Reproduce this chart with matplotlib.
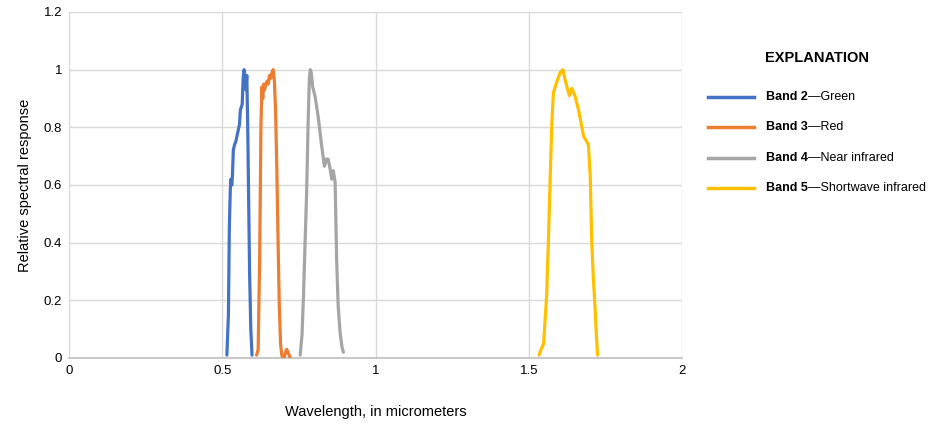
import matplotlib
matplotlib.use("Agg")
import matplotlib.pyplot as plt
from matplotlib.lines import Line2D

plt.rcParams['font.family'] = ['Liberation Sans', 'DejaVu Sans']

# spectral response curves
band2_wl = [0.515, 0.520, 0.523, 0.526, 0.528, 0.531, 0.533, 0.536, 0.540, 0.544, 0.548,
            0.552, 0.556, 0.559, 0.562, 0.565, 0.568, 0.571, 0.574, 0.577, 0.580, 0.583,
            0.586, 0.589, 0.593, 0.597]
band2_y = [0.01, 0.15, 0.45, 0.58, 0.62, 0.60, 0.63, 0.72, 0.74, 0.75, 0.77,
           0.79, 0.81, 0.86, 0.87, 0.88, 0.97, 1.00, 0.98, 0.93, 0.98, 0.80,
           0.55, 0.30, 0.10, 0.01]

band3_wl = [0.612, 0.617, 0.622, 0.626, 0.629, 0.632, 0.635, 0.638, 0.642, 0.646, 0.650,
            0.654, 0.658, 0.662, 0.666, 0.670, 0.674, 0.678, 0.682, 0.686, 0.690, 0.694,
            0.698, 0.702, 0.706, 0.710, 0.714, 0.718, 0.722]
band3_y = [0.01, 0.03, 0.35, 0.80, 0.94, 0.90, 0.95, 0.93, 0.95, 0.96, 0.95,
           0.98, 0.97, 0.99, 1.00, 0.96, 0.85, 0.65, 0.40, 0.18, 0.05, 0.01,
           0.00, 0.00, 0.02, 0.03, 0.02, 0.01, 0.00]

band4_wl = [0.754, 0.760, 0.765, 0.770, 0.775, 0.780, 0.784, 0.787, 0.790, 0.795, 0.803,
            0.813, 0.823, 0.833, 0.840, 0.845, 0.851, 0.857, 0.862, 0.868, 0.873, 0.878,
            0.884, 0.890, 0.895]
band4_y = [0.01, 0.08, 0.22, 0.40, 0.57, 0.82, 0.97, 1.00, 0.99, 0.94, 0.905,
           0.835, 0.745, 0.665, 0.69, 0.69, 0.66, 0.62, 0.65, 0.61, 0.34, 0.18,
           0.09, 0.04, 0.02]

band5_wl = [1.533, 1.540, 1.548, 1.558, 1.564, 1.569, 1.575, 1.580, 1.590, 1.602, 1.611,
            1.617, 1.624, 1.632, 1.640, 1.650, 1.662, 1.673, 1.678, 1.686, 1.694, 1.700,
            1.705, 1.710, 1.716, 1.720, 1.724]
band5_y = [0.01, 0.03, 0.05, 0.22, 0.42, 0.61, 0.82, 0.92, 0.955, 0.99, 1.00,
           0.97, 0.94, 0.91, 0.935, 0.91, 0.86, 0.80, 0.77, 0.755, 0.74, 0.63,
           0.40, 0.28, 0.17, 0.08, 0.01]

band_names = ['Band 2', 'Band 3', 'Band 4', 'Band 5']
band_desc = ['\u2014Green', '\u2014Red', '\u2014Near infrared', '\u2014Shortwave infrared']
colors = ['#4472C4', '#ED7D31', '#A5A5A5', '#FFC000']

x_ticks = [0, 0.5, 1, 1.5, 2]
x_ticklabels = ['0', '0.5', '1', '1.5', '2']
y_ticks = [0, 0.2, 0.4, 0.6, 0.8, 1.0, 1.2]
y_ticklabels = ['0', '0.2', '0.4', '0.6', '0.8', '1', '1.2']

fig = plt.figure(figsize=(9.32, 4.24), dpi=100)
ax = fig.add_axes([0.074, 0.1557, 0.658, 0.816])

series = [(band2_wl, band2_y), (band3_wl, band3_y), (band4_wl, band4_y), (band5_wl, band5_y)]
for (wl, y), c in zip(series, colors):
    ax.plot(wl, y, color=c, lw=2.3, solid_joinstyle='round', solid_capstyle='round', zorder=3)

ax.set_xlim(0, 2)
ax.set_ylim(0, 1.2)
ax.set_xticks(x_ticks)
ax.set_xticklabels(x_ticklabels)
ax.set_yticks(y_ticks)
ax.set_yticklabels(y_ticklabels)
ax.tick_params(length=0, labelsize=9.5, colors='black', pad=5)
ax.grid(True, color='#d9d9d9', lw=1)
for s in ['top', 'right']:
    ax.spines[s].set_visible(False)
ax.spines['left'].set_color('#d9d9d9')
ax.spines['bottom'].set_color('#bfbfbf')
ax.spines['bottom'].set_linewidth(1.2)
ax.set_axisbelow(True)

ax.set_ylabel('Relative spectral response', fontsize=10.5, labelpad=8)
ax.set_xlabel('Wavelength, in micrometers', fontsize=10.5, labelpad=20)

# explanation (legend) on the right
fig.text(817 / 932, 1 - 58 / 424, 'EXPLANATION', fontsize=10.5, fontweight='bold',
         ha='center', va='center')
row_y = [97, 127, 158, 188]
for name, desc, c, py in zip(band_names, band_desc, colors, row_y):
    yf = 1 - py / 424
    fig.add_artist(Line2D([708 / 932, 754 / 932], [yf, yf], color=c, lw=2.5,
                          transform=fig.transFigure))
    t = fig.text(766 / 932, yf, name, fontsize=9, fontweight='bold', va='center')
    ax.annotate(desc, xy=(1, 0.5), xycoords=t, va='center', ha='left', fontsize=9,
                annotation_clip=False)

fig.savefig('out.png', dpi=100)
